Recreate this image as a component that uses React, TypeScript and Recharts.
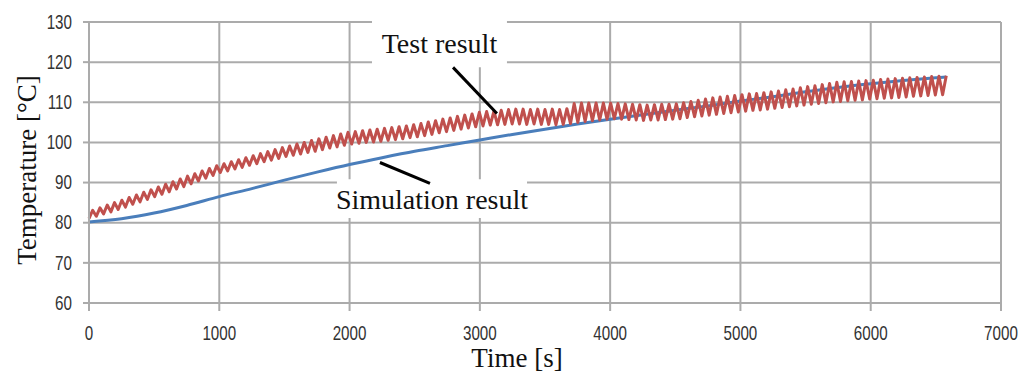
import { CartesianGrid, Line, LineChart, ReferenceArea, ReferenceLine, XAxis, YAxis } from 'recharts';

const timeTicks = [0, 1000, 2000, 3000, 4000, 5000, 6000, 7000];
const tempTicks = [60, 70, 80, 90, 100, 110, 120, 130];

// simulation result (smooth curve)
const simTime = [
  0, 250, 500, 750, 1000, 1250, 1500, 1750, 2000, 2250, 2500, 2750, 3000, 3250,
  3500, 3750, 4000, 4250, 4500, 4750, 5000, 5250, 5500, 5750, 6000, 6250, 6500, 6580,
];
const simTemp = [
  80.2, 81.0, 82.4, 84.3, 86.5, 88.5, 90.6, 92.6, 94.5, 96.2, 97.8, 99.2, 100.6, 102.0,
  103.3, 104.6, 105.8, 106.9, 108.0, 109.1, 110.3, 111.4, 112.6, 113.7, 114.6, 115.4, 116.1, 116.3,
];

// test result (oscillating measurement, trough / peak samples)
const testTime = [
  0, 28, 56, 84, 112, 140, 168, 196, 224, 252,
  280, 308, 336, 364, 392, 420, 448, 476, 504, 532,
  560, 588, 616, 644, 672, 700, 728, 756, 784, 812,
  840, 868, 896, 924, 952, 980, 1008, 1036, 1064, 1092,
  1120, 1148, 1176, 1204, 1232, 1260, 1288, 1316, 1344, 1372,
  1400, 1428, 1456, 1484, 1512, 1540, 1568, 1596, 1624, 1652,
  1680, 1708, 1736, 1764, 1792, 1820, 1848, 1876, 1904, 1932,
  1960, 1988, 2016, 2044, 2072, 2100, 2128, 2156, 2184, 2212,
  2240, 2268, 2296, 2324, 2352, 2380, 2408, 2436, 2464, 2492,
  2520, 2548, 2576, 2604, 2632, 2660, 2688, 2716, 2744, 2772,
  2800, 2828, 2856, 2884, 2912, 2940, 2968, 2996, 3024, 3052,
  3080, 3108, 3136, 3164, 3192, 3220, 3248, 3276, 3304, 3332,
  3360, 3388, 3416, 3444, 3472, 3500, 3528, 3556, 3584, 3612,
  3640, 3668, 3696, 3724, 3752, 3780, 3808, 3836, 3864, 3892,
  3920, 3948, 3976, 4004, 4032, 4060, 4088, 4116, 4144, 4172,
  4200, 4228, 4256, 4284, 4312, 4340, 4368, 4396, 4424, 4452,
  4480, 4508, 4536, 4564, 4592, 4620, 4648, 4676, 4704, 4732,
  4760, 4788, 4816, 4844, 4872, 4900, 4928, 4956, 4984, 5012,
  5040, 5068, 5096, 5124, 5152, 5180, 5208, 5236, 5264, 5292,
  5320, 5348, 5376, 5404, 5432, 5460, 5488, 5516, 5544, 5572,
  5600, 5628, 5656, 5684, 5712, 5740, 5768, 5796, 5824, 5852,
  5880, 5908, 5936, 5964, 5992, 6020, 6048, 6076, 6104, 6132,
  6160, 6188, 6216, 6244, 6272, 6300, 6328, 6356, 6384, 6412,
  6440, 6468, 6496, 6524, 6552, 6580,
];
const testTemp = [
  81.0, 83.1, 81.6, 83.7, 82.2, 84.4, 82.7, 85.0, 83.3, 85.6,
  83.9, 86.3, 84.6, 86.9, 85.2, 87.6, 85.8, 88.2, 86.5, 88.9,
  87.1, 89.6, 87.7, 90.2, 88.4, 90.9, 89.0, 91.6, 89.7, 92.2,
  90.4, 92.9, 91.1, 93.5, 91.8, 94.2, 92.5, 94.7, 92.9, 95.2,
  93.4, 95.7, 93.8, 96.2, 94.3, 96.7, 94.7, 97.2, 95.2, 97.7,
  95.6, 98.2, 96.0, 98.7, 96.5, 99.1, 96.8, 99.6, 97.1, 100.0,
  97.5, 100.5, 97.8, 100.9, 98.2, 101.3, 98.6, 101.7, 98.9, 102.1,
  99.3, 102.5, 99.6, 102.7, 99.8, 102.9, 100.0, 103.1, 100.1, 103.3,
  100.3, 103.5, 100.5, 103.7, 100.7, 103.9, 100.9, 104.1, 101.2, 104.4,
  101.4, 104.7, 101.7, 105.1, 102.0, 105.4, 102.4, 105.8, 102.7, 106.1,
  103.0, 106.5, 103.3, 106.8, 103.6, 107.1, 103.9, 107.5, 104.1, 107.7,
  104.3, 107.8, 104.4, 108.0, 104.5, 108.2, 104.6, 108.3, 104.6, 108.3,
  104.5, 108.2, 104.6, 108.3, 104.5, 108.2, 104.5, 108.3, 104.4, 108.2,
  104.5, 108.4, 104.7, 109.7, 105.0, 109.8, 105.2, 109.8, 105.4, 109.8,
  105.6, 109.8, 105.8, 109.8, 105.9, 109.7, 105.8, 109.6, 105.7, 109.5,
  105.6, 109.4, 105.5, 109.3, 105.6, 109.4, 105.6, 109.5, 105.7, 109.5,
  105.8, 109.6, 105.9, 109.9, 106.2, 110.2, 106.4, 110.5, 106.6, 110.8,
  106.8, 111.1, 107.0, 111.3, 107.2, 111.5, 107.4, 111.7, 107.6, 111.9,
  107.8, 112.1, 108.0, 112.2, 108.1, 112.4, 108.3, 112.6, 108.5, 112.8,
  108.7, 113.1, 108.9, 113.3, 109.1, 113.6, 109.3, 113.9, 109.5, 114.1,
  109.7, 114.4, 109.9, 114.7, 110.1, 115.0, 110.2, 115.1, 110.4, 115.2,
  110.5, 115.3, 110.6, 115.4, 110.8, 115.5, 110.9, 115.7, 111.0, 115.8,
  111.1, 115.9, 111.2, 116.0, 111.3, 116.1, 111.5, 116.2, 111.6, 116.3,
  111.7, 116.4, 111.8, 116.5, 111.9, 116.6,
];

const simData = simTime.map((time, i) => ({ time, temp: simTemp[i] }));
const testData = testTime.map((time, i) => ({ time, temp: testTemp[i] }));

const gridColor = '#ababab';
const serif = '"Liberation Serif", "Times New Roman", serif';
const tickFont = '"Liberation Sans", Arial, sans-serif';

const XTick = ({ x, y, payload }: any) => (
  <text
    transform={`translate(${x},${y}) scale(0.76,1)`}
    textAnchor="middle"
    dominantBaseline="central"
    fontFamily={tickFont}
    fontSize={20}
    fill="#333"
  >
    {payload.value}
  </text>
);

const YTick = ({ x, y, payload }: any) => (
  <text
    transform={`translate(${x},${y}) scale(0.76,1)`}
    textAnchor="end"
    dominantBaseline="central"
    fontFamily={tickFont}
    fontSize={20}
    fill="#333"
  >
    {payload.value}
  </text>
);

const labelStyle = { fontFamily: serif, fontSize: 28, fill: '#111' };

export default function App() {
  return (
    <div style={{ position: 'relative', width: 1019, height: 373 }}>
      <LineChart width={1019} height={373} margin={{ top: 14, right: 26, bottom: 28, left: 0 }}>
        <CartesianGrid stroke={gridColor} strokeWidth={2} verticalValues={timeTicks} horizontalValues={tempTicks} />
        <XAxis
          type="number"
          dataKey="time"
          domain={[0, 7000]}
          ticks={timeTicks}
          height={50}
          tickSize={8}
          tickMargin={22}
          tick={<XTick />}
          axisLine={{ stroke: gridColor, strokeWidth: 2 }}
          tickLine={{ stroke: gridColor, strokeWidth: 2 }}
        />
        <YAxis
          type="number"
          domain={[60, 130]}
          ticks={tempTicks}
          width={81}
          tickSize={6}
          tickMargin={11}
          tick={<YTick />}
          axisLine={{ stroke: gridColor, strokeWidth: 2 }}
          tickLine={{ stroke: gridColor, strokeWidth: 2 }}
        />
        <ReferenceArea
          x1={2172}
          x2={3208}
          y1={118.7}
          y2={130.7}
          ifOverflow="visible"
          fill="#fff"
          fillOpacity={1}
          stroke="none"
          label={{ value: 'Test result', position: 'center', ...labelStyle }}
        />
        <ReferenceArea
          x1={1903}
          x2={3362}
          y1={81.2}
          y2={90.8}
          fill="#fff"
          fillOpacity={1}
          stroke="none"
          label={{ value: 'Simulation result', position: 'center', ...labelStyle }}
        />
        <Line
          data={simData}
          dataKey="temp"
          type="monotone"
          stroke="#4a7ebb"
          strokeWidth={3}
          dot={false}
          isAnimationActive={false}
        />
        <Line
          data={testData}
          dataKey="temp"
          type="linear"
          stroke="#c0504d"
          strokeWidth={3}
          strokeLinejoin="round"
          dot={false}
          isAnimationActive={false}
        />
        <ReferenceLine segment={[{ x: 2794, y: 118.7 }, { x: 3131, y: 107.2 }]} stroke="#000" strokeWidth={3} />
        <ReferenceLine segment={[{ x: 2233, y: 95.0 }, { x: 2617, y: 89.8 }]} stroke="#000" strokeWidth={3} />
      </LineChart>
      <span
        style={{
          position: 'absolute',
          left: 19,
          top: 162,
          transform: 'translate(-50%, -50%) rotate(-90deg)',
          whiteSpace: 'nowrap',
          fontFamily: serif,
          fontSize: 27,
          lineHeight: 1,
          color: '#111',
        }}
      >
        Temperature [°C]
      </span>
      <span
        style={{
          position: 'absolute',
          left: 509,
          top: 350,
          transform: 'translate(-50%, -50%)',
          whiteSpace: 'nowrap',
          fontFamily: serif,
          fontSize: 27,
          lineHeight: 1,
          color: '#111',
        }}
      >
        Time [s]
      </span>
    </div>
  );
}
